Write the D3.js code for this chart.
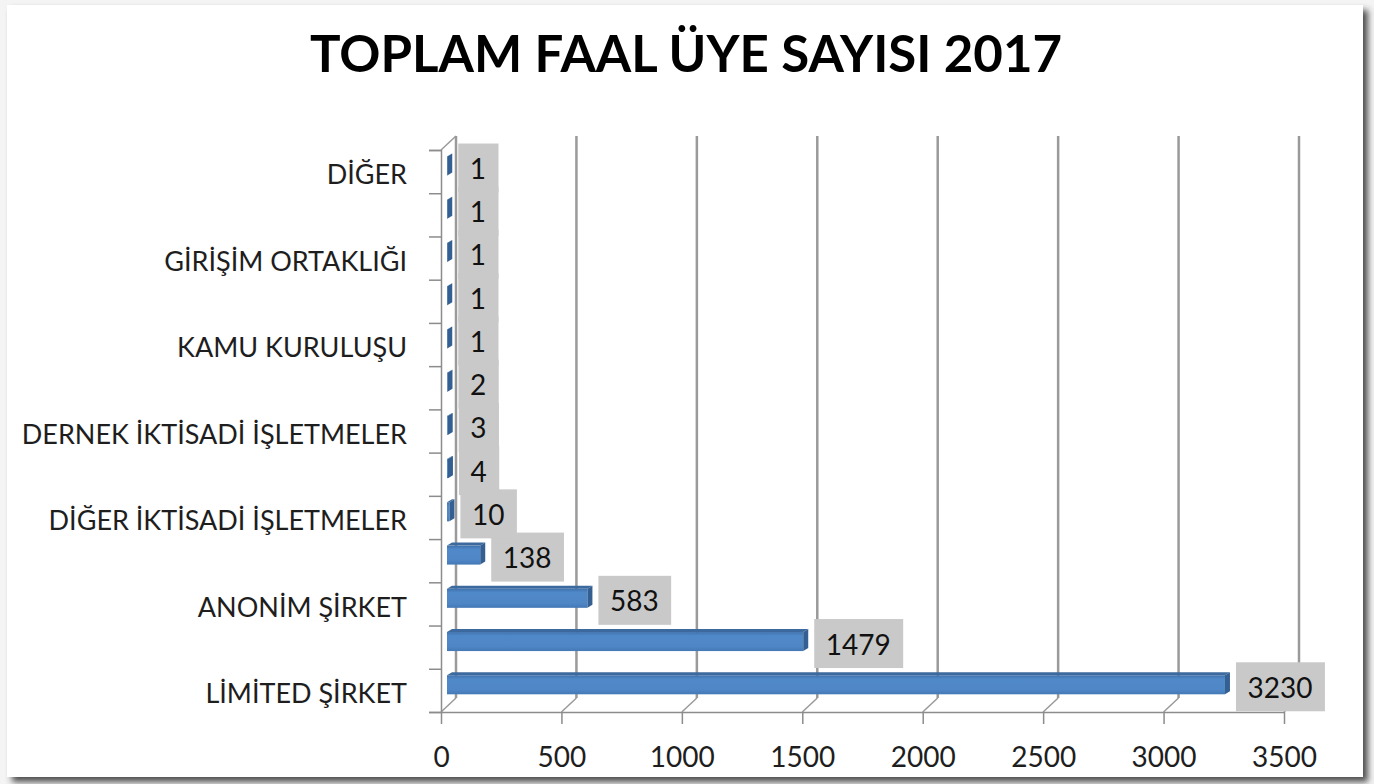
<!DOCTYPE html>
<head>
<meta charset="utf-8">
<title>Toplam faal üye sayısı 2017</title>
<style>
    body { margin: 0; background: #f4f4f4; font-family: Lato, sans-serif; }
    .cat text { font-size: 27px; fill: #1e1e1e; }
    .xaxis text { font-size: 28px; fill: #1e1e1e; }
    .lbl { font-size: 28px; fill: #111; }
    .title { font-size: 51px; font-weight: bold; fill: #000; }
</style>
</head>
<body>
<script src="https://d3js.org/d3.v7.min.js"></script>
<script>

    // bottom to top, as in the chart
    var categories = ["LİMİTED ŞİRKET", "GERÇEK KİŞİ", "ANONİM ŞİRKET", "KOOPERATİF",
        "DİĞER İKTİSADİ İŞLETMELER", "KOLLEKTİF ŞİRKET", "DERNEK İKTİSADİ İŞLETMELER",
        "VAKIF İKTİSADİ İŞLETMELER", "KAMU KURULUŞU", "KOMANDİT ŞİRKET",
        "GİRİŞİM ORTAKLIĞI", "YABANCI ŞİRKET ŞUBESİ", "DİĞER "];
    var values = [3230, 1479, 583, 138, 10, 4, 3, 2, 1, 1, 1, 1, 1];
    var xTicks = [0, 500, 1000, 1500, 2000, 2500, 3000, 3500];

    var W = 1374, H = 784;
    var dx = 15, dy = -14;          // depth of the 3d wall
    var f = 0.4;                    // bar depth position

    var svg = d3.select("body").append("svg")
        .attr("width", W).attr("height", H)
        .style("display", "block");

    var defs = svg.append("defs");
    var sh = defs.append("filter").attr("id", "shadow")
        .attr("x", "-5%").attr("y", "-5%").attr("width", "110%").attr("height", "110%");
    sh.append("feDropShadow").attr("dx", 5).attr("dy", 5).attr("stdDeviation", 3)
        .attr("flood-color", "#333").attr("flood-opacity", 0.85);

    var grad = defs.append("linearGradient").attr("id", "barg")
        .attr("x1", 0).attr("y1", 0).attr("x2", 0).attr("y2", 1);
    grad.append("stop").attr("offset", "0%").attr("stop-color", "#3f72ad");
    grad.append("stop").attr("offset", "20%").attr("stop-color", "#5089c9");
    grad.append("stop").attr("offset", "75%").attr("stop-color", "#4f86c6");
    grad.append("stop").attr("offset", "100%").attr("stop-color", "#4479b6");

    svg.append("rect")
        .attr("x", 7).attr("y", 5).attr("width", 1356).attr("height", 772)
        .attr("fill", "#fff").attr("filter", "url(#shadow)");

    svg.append("text").attr("class", "title")
        .attr("x", 686).attr("y", 72).attr("text-anchor", "middle")
        .text("TOPLAM FAAL ÜYE SAYISI 2017");

    var x = d3.scaleLinear().domain([0, 3500]).range([441, 1284]);
    var y = d3.scaleBand().domain(categories).range([712, 150]);
    var yIdx = d3.scaleLinear().domain([0, categories.length]).range([712, 150]);

    var gridColor = "#9a9a9a";

    // back wall gridlines and floor diagonals
    var grid = svg.append("g");
    xTicks.forEach(function (t) {
        grid.append("line")
            .attr("x1", x(t) + dx).attr("x2", x(t) + dx)
            .attr("y1", 712 + dy).attr("y2", 150 + dy)
            .attr("stroke", gridColor).attr("stroke-width", 2.5);
        grid.append("line")
            .attr("x1", x(t)).attr("y1", 712)
            .attr("x2", x(t) + dx).attr("y2", 712 + dy)
            .attr("stroke", gridColor).attr("stroke-width", 1.5);
    });
    grid.append("line")
        .attr("x1", x(0)).attr("y1", 150)
        .attr("x2", x(0) + dx).attr("y2", 150 + dy)
        .attr("stroke", gridColor).attr("stroke-width", 1.5);

    // y axis: ticks at category boundaries
    svg.append("g")
        .attr("transform", "translate(" + x(0) + ",0)")
        .call(d3.axisLeft(yIdx).tickValues(d3.range(categories.length + 1))
            .tickSize(12).tickFormat(""))
        .call(g => g.selectAll("path, line").attr("stroke", "#8c8c8c").attr("stroke-width", 1.5));

    svg.append("g").attr("class", "cat")
        .attr("transform", "translate(" + x(0) + ",4)")
        .call(d3.axisLeft(y).tickSize(0).tickPadding(34)
            .tickFormat((d, i) => i % 2 === 0 ? d : ""))
        .call(g => g.select(".domain").remove())
        .call(g => g.selectAll("text").attr("font-family", "Lato"));

    // x axis
    svg.append("g").attr("class", "xaxis")
        .attr("transform", "translate(0,712)")
        .call(d3.axisBottom(x).tickValues(xTicks).tickFormat(d3.format("d"))
            .tickSize(12).tickPadding(23).tickSizeOuter(0))
        .call(g => g.selectAll("path, line").attr("stroke", "#8c8c8c").attr("stroke-width", 1.5))
        .call(g => g.selectAll("text").attr("font-family", "Lato"));

    // bars
    var bh = y.bandwidth() * 0.44;
    var ox = dx * f, oy = dy * f;
    var cap = 5, capY = 3;

    var bar = svg.append("g").selectAll("g")
        .data(categories.map((c, i) => ({c: c, v: values[i]})))
        .join("g");

    bar.each(function (d) {
        var g = d3.select(this);
        var yc = y(d.c) + y.bandwidth() / 2 + oy;
        var yt = yc - bh / 2, yb = yc + bh / 2;
        var x0 = x(0) + ox, xe = x(d.v) + ox;
        g.append("rect")
            .attr("x", x0).attr("y", yt)
            .attr("width", xe - x0).attr("height", bh)
            .attr("fill", "url(#barg)");
        g.append("polygon")
            .attr("points", [[x0, yt], [x0 + cap, yt - capY], [xe + cap, yt - capY], [xe, yt]].join(" "))
            .attr("fill", "#3c6a9e");
        g.append("polygon")
            .attr("points", [[xe, yt], [xe + cap, yt - capY], [xe + cap, yb - capY], [xe, yb]].join(" "))
            .attr("fill", "#335f92");

        // label box
        var txt = g.append("text").attr("class", "lbl")
            .attr("x", xe + 11 + 11.5).attr("y", yc + 2)
            .attr("dominant-baseline", "central")
            .text(d.v);
        var w = txt.node().getComputedTextLength();
        g.insert("rect", "text")
            .attr("x", xe + 11).attr("y", yc + 2 - 24.5)
            .attr("width", w + 24).attr("height", 49)
            .attr("fill", "#c9c9c9");
    });

</script>
</body>
